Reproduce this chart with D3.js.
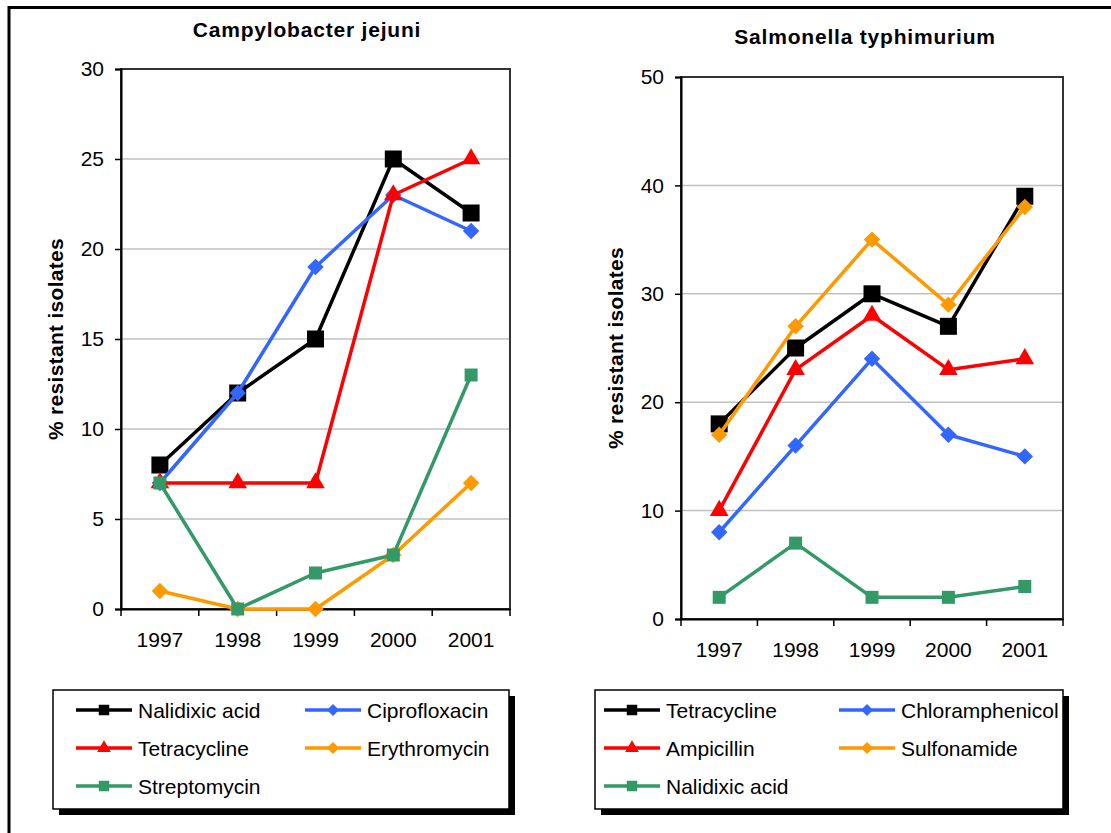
<!DOCTYPE html>
<html>
<head>
<meta charset="utf-8">
<script src="https://cdn.jsdelivr.net/npm/d3@7"></script>
<style>
  body { margin: 0; background: #fff; }
  svg { display: block; font-family: "Liberation Sans", Arial, sans-serif; }
  .tick text { font-size: 21px; fill: #000; }
  .grid line { stroke: #c0c0c0; stroke-width: 1.5; }
  .title { font-size: 21px; font-weight: bold; letter-spacing: 0.8px; }
  .ytitle { font-size: 21px; font-weight: bold; letter-spacing: 0.3px; }
  .leg text { font-size: 21px; }
</style>
</head>
<body>
<div id="chart"></div>
<script>
// years on the x axis (shared)
const years = ['1997', '1998', '1999', '2000', '2001'];

// Campylobacter jejuni
const campyNames = ['Nalidixic acid', 'Ciprofloxacin', 'Tetracycline', 'Erythromycin', 'Streptomycin'];
const campyNalidixic = [8, 12, 15, 25, 22];
const campyCipro = [7, 12, 19, 23, 21];
const campyTetra = [7, 7, 7, 23, 25];
const campyErythro = [1, 0, 0, 3, 7];
const campyStrepto = [7, 0, 2, 3, 13];
const campyTicks = [0, 5, 10, 15, 20, 25, 30];

// Salmonella typhimurium
const salmNames = ['Tetracycline', 'Chloramphenicol', 'Ampicillin', 'Sulfonamide', 'Nalidixic acid'];
const salmTetra = [18, 25, 30, 27, 39];
const salmChloram = [8, 16, 24, 17, 15];
const salmAmpi = [10, 23, 28, 23, 24];
const salmSulfo = [17, 27, 35, 29, 38];
const salmNalidixic = [2, 7, 2, 2, 3];
const salmTicks = [0, 10, 20, 30, 40, 50];

// one style per legend slot, same order in both charts
const colors = ['#000000', '#3366ff', '#ff0000', '#ff9900', '#339966'];
const shapes = ['square', 'diamond', 'triangle', 'diamond', 'smallsquare'];

const W = 1111, H = 833;
const svg = d3.select('#chart').append('svg').attr('width', W).attr('height', H);

// outer frame (only top and left edges are on the page)
svg.append('line').attr('x1', 8).attr('x2', W).attr('y1', 7.5).attr('y2', 7.5)
   .attr('stroke', '#000').attr('stroke-width', 3);
svg.append('line').attr('x1', 9).attr('x2', 9).attr('y1', 6).attr('y2', H)
   .attr('stroke', '#000').attr('stroke-width', 3);

function markerPath(shape, big) {
  if (shape === 'square') return d3.symbol(d3.symbolSquare, big ? 289 : 110)();
  if (shape === 'smallsquare') return d3.symbol(d3.symbolSquare, big ? 169 : 110)();
  if (shape === 'triangle') return d3.symbol(d3.symbolTriangle, big ? 150 : 80)();
  return d3.symbol(d3.symbolSquare, big ? 135 : 72)();   // rotated below -> diamond
}
function markerRot(shape) { return shape === 'diamond' ? ' rotate(45)' : ''; }

function drawChart(cfg) {
  const g = svg.append('g');
  const x = d3.scaleBand().domain(years).range([cfg.left, cfg.right]).padding(0);
  const y = d3.scaleLinear().domain([0, cfg.max]).range([cfg.bottom, cfg.top]);

  // grid
  g.append('g').attr('class', 'grid')
    .selectAll('line').data(cfg.ticks.filter(t => t > 0 && t < cfg.max)).join('line')
    .attr('x1', cfg.left).attr('x2', cfg.right)
    .attr('y1', d => y(d)).attr('y2', d => y(d));

  // plot border
  g.append('rect').attr('x', cfg.left).attr('y', cfg.top)
    .attr('width', cfg.right - cfg.left).attr('height', cfg.bottom - cfg.top)
    .attr('fill', 'none').attr('stroke', '#333').attr('stroke-width', 2);

  // y axis
  const yA = d3.axisLeft(y).tickValues(cfg.ticks).tickSize(6).tickPadding(11);
  const ya = g.append('g').attr('transform', 'translate(' + cfg.left + ',0)').call(yA);
  ya.select('.domain').attr('stroke-width', 2);
  ya.selectAll('.tick line').attr('stroke-width', 1.5);

  // x axis: labels centred in bands, ticks on band edges
  const xA = d3.axisBottom(x).tickSize(0).tickPadding(23);
  const xa = g.append('g').attr('transform', 'translate(0,' + cfg.bottom + ')').call(xA);
  xa.select('.domain').attr('stroke-width', 2);
  const edges = years.map(d => x(d)).concat([cfg.right]);
  xa.selectAll('.edge').data(edges).join('line').attr('class', 'edge')
    .attr('x1', d => d).attr('x2', d => d).attr('y1', 0).attr('y2', 7)
    .attr('stroke', '#000').attr('stroke-width', 1.5);

  // titles
  g.append('text').attr('class', 'title').attr('x', cfg.titleX).attr('y', cfg.titleY)
    .attr('text-anchor', 'middle').text(cfg.title);
  g.append('text').attr('class', 'ytitle')
    .attr('transform', 'translate(' + cfg.yTitleX + ',' + (cfg.top + cfg.bottom) / 2 + ') rotate(-90)')
    .attr('text-anchor', 'middle').text('% resistant isolates');

  // series
  const line = d3.line().x((d, i) => x(years[i]) + x.bandwidth() / 2).y(d => y(d));
  cfg.series.forEach((vals, k) => {
    const s = g.append('g');
    s.append('path').datum(vals).attr('d', line).attr('fill', 'none')
      .attr('stroke', colors[k]).attr('stroke-width', 3.5).attr('stroke-linejoin', 'round');
    s.selectAll('path.m').data(vals).join('path').attr('class', 'm')
      .attr('d', markerPath(shapes[k], true))
      .attr('transform', (d, i) => 'translate(' + (x(years[i]) + x.bandwidth() / 2) + ',' + y(d) + ')' + markerRot(shapes[k]))
      .attr('fill', colors[k]);
  });

  // legend
  const lg = g.append('g').attr('class', 'leg');
  lg.append('rect').attr('x', cfg.legX + 6).attr('y', cfg.legY + 6)
    .attr('width', cfg.legW).attr('height', 119).attr('fill', '#000');
  lg.append('rect').attr('x', cfg.legX).attr('y', cfg.legY)
    .attr('width', cfg.legW).attr('height', 119).attr('fill', '#fff')
    .attr('stroke', '#000').attr('stroke-width', 1.5);
  cfg.names.forEach((name, k) => {
    const col = k % 2, row = Math.floor(k / 2);
    const lx = cfg.legX + cfg.legCols[col];
    const ly = cfg.legY + 20 + row * 38;
    lg.append('line').attr('x1', lx).attr('x2', lx + 56).attr('y1', ly).attr('y2', ly)
      .attr('stroke', colors[k]).attr('stroke-width', 3.5);
    lg.append('path').attr('d', markerPath(shapes[k], false))
      .attr('transform', 'translate(' + (lx + 28) + ',' + ly + ')' + markerRot(shapes[k]))
      .attr('fill', colors[k]);
    lg.append('text').attr('x', lx + 62).attr('y', ly + 7.5).text(name);
  });
}

drawChart({
  title: 'Campylobacter jejuni', titleX: 307, titleY: 37,
  left: 121, right: 510, top: 69, bottom: 609, max: 30, ticks: campyTicks,
  yTitleX: 63,
  series: [campyNalidixic, campyCipro, campyTetra, campyErythro, campyStrepto],
  names: campyNames,
  legX: 53, legY: 690, legW: 456, legCols: [23, 252]
});

drawChart({
  title: 'Salmonella typhimurium', titleX: 865, titleY: 44,
  left: 681, right: 1063, top: 77, bottom: 619, max: 50, ticks: salmTicks,
  yTitleX: 623,
  series: [salmTetra, salmChloram, salmAmpi, salmSulfo, salmNalidixic],
  names: salmNames,
  legX: 595, legY: 690, legW: 468, legCols: [9, 244]
});
</script>
</body>
</html>
